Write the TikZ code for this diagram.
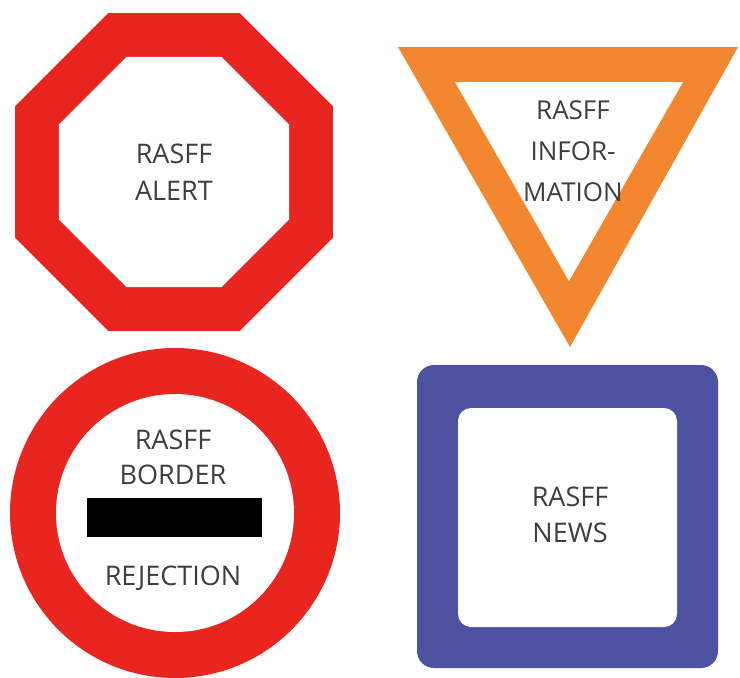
\documentclass[tikz,border=0pt]{standalone}
\usepackage{fontspec}
\setmainfont{Open Sans}
\usetikzlibrary{calc}
\definecolor{alertred}{RGB}{232,37,31}
\definecolor{infoorange}{RGB}{243,135,48}
\definecolor{newsblue}{RGB}{78,80,160}
\definecolor{signgrey}{RGB}{62,62,62}

\begin{document}
\begin{tikzpicture}[
  x=1pt, y=-1pt,
  font=\rmfamily,
  signtext/.style={align=center, text=signgrey, inner sep=0pt,
    font=\fontsize{27}{37}\selectfont},
  hole/.style={fill=white},
]
\useasboundingbox (0,0) rectangle (740,678);

% ---- alert: red octagon ----
\coordinate (alertc) at (174,172);
\fill[alertred] ($(alertc)+(22.5:172)$)
  \foreach \k in {1,...,7} { -- ($(alertc)+(22.5+45*\k:172)$) } -- cycle;
\fill[hole] ($(alertc)+(22.5:124.5)$)
  \foreach \k in {1,...,7} { -- ($(alertc)+(22.5+45*\k:124.5)$) } -- cycle;
\node[signtext] (alert) at (alertc) {RASFF\\ALERT};

% ---- information: orange triangle ----
\fill[infoorange] (398,47) -- (738,47) -- (570,347) -- cycle;
\fill[hole] (455,82) -- (683,82) -- (569,281) -- cycle;
\node[signtext, font=\fontsize{26}{41}\selectfont] (info) at (573,151)
  {RASFF\\INFOR-\\MATION};

% ---- border rejection: red circle with bar ----
\coordinate (borderc) at (175,513);
\fill[alertred] (borderc) circle[radius=165];
\fill[hole] (borderc) circle[radius=119];
\node[signtext, font=\fontsize{27}{35}\selectfont] (border) at (173,457)
  {RASFF\\BORDER};
\node[fill=black, minimum width=175pt, minimum height=39pt, inner sep=0pt]
  (bar) at (174.5,517.5) {};
\node[signtext] (rejection) at (173,578) {REJECTION};

% ---- news: blue rounded square ----
\fill[newsblue, rounded corners=17pt] (417,365) rectangle (718,668);
\fill[hole, rounded corners=13pt] (458,408) rectangle (677,627);
\node[signtext, font=\fontsize{27}{36}\selectfont] (news) at (570,515)
  {RASFF\\NEWS};

\end{tikzpicture}
\end{document}
